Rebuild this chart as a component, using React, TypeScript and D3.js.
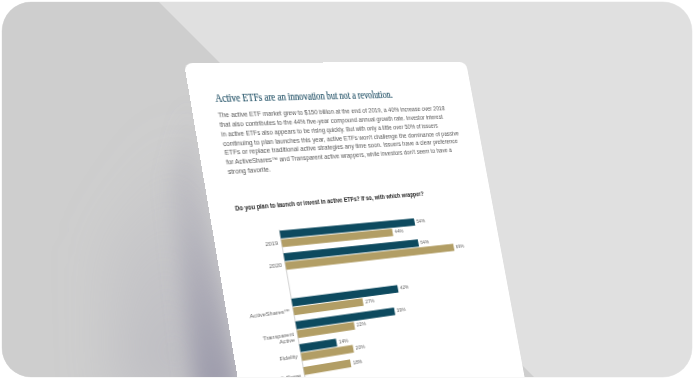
import React from "react";
import * as d3 from "d3";

// ---------------- data ----------------
const categories = ["2019", "2020", "", "ActiveShares™", "Transparent Active", "Fidelity", "T. Rowe"];
const issuerValues: (number | null)[] = [54, 54, null, 42, 39, 14, null];
const investorValues: (number | null)[] = [44, 69, null, 27, 22, 20, 18];
const seriesKeys = ["issuers", "investors"];
const seriesColors = ["#0d4a5f", "#b29e65"];
const headline = "Active ETFs are an innovation but not a revolution.";
const bodyLines = [
  "The active ETF market grew to $150 billion at the end of 2019, a 40% increase over 2018",
  "that also contributes to the 44% five-year compound annual growth rate. Investor interest",
  "in active ETFs also appears to be rising quickly. But with only a little over 50% of issuers",
  "continuing to plan launches this year, active ETFs won’t challenge the dominance of passive",
  "ETFs or replace traditional active strategies any time soon. Issuers have a clear preference",
  "for ActiveShares™ and Transparent active wrappers, while investors don’t seem to have a",
  "strong favorite.",
];
const chartTitle = "Do you plan to launch or invest in active ETFs? If so, with which wrapper?";

// ---------------- geometry (layout only) ----------------
const W = 694;
const H = 380;
const PW = 300;
const PH = 440;
const pageCorners: [number, number][] = [[0, 0], [300, 0], [0, 320], [300, 320]];
const imageCorners: [number, number][] = [[184, 63], [466, 62], [237.5, 377], [516, 331]];
const bodyLineEndsX = [445, 443, 438, 459, 458, 452, 271];

function solveH(src: [number, number][], dst: [number, number][]) {
  const M: number[][] = [];
  const r: number[] = [];
  for (let i = 0; i < 4; i++) {
    const [u, v] = src[i];
    const [x, y] = dst[i];
    M.push([u, v, 1, 0, 0, 0, -u * x, -v * x]);
    r.push(x);
    M.push([0, 0, 0, u, v, 1, -u * y, -v * y]);
    r.push(y);
  }
  const n = 8;
  for (let c = 0; c < n; c++) {
    let p = c;
    for (let k = c + 1; k < n; k++) if (Math.abs(M[k][c]) > Math.abs(M[p][c])) p = k;
    [M[c], M[p]] = [M[p], M[c]];
    [r[c], r[p]] = [r[p], r[c]];
    for (let k = 0; k < n; k++) {
      if (k === c) continue;
      const f = M[k][c] / M[c][c];
      for (let j = c; j < n; j++) M[k][j] -= f * M[c][j];
      r[k] -= f * r[c];
    }
  }
  return r.map((v, i) => v / M[i][i]);
}

export default function App() {
  const [a, b, c, d, e, f, g, h] = solveH(pageCorners, imageCorners);
  const toPage = (x: number, y: number) => {
    const m11 = a - g * x, m12 = b - h * x, r1 = x - c;
    const m21 = d - g * y, m22 = e - h * y, r2 = y - f;
    const det = m11 * m22 - m12 * m21;
    return { u: (r1 * m22 - m12 * r2) / det, v: (m11 * r2 - m21 * r1) / det };
  };
  const uAtX = (X: number, v: number) => (X * (h * v + 1) - b * v - c) / (a - g * X);
  const m3d = `matrix3d(${a},${d},0,${g},${b},${e},0,${h},0,0,1,0,${c},${f},0,1)`;

  // text anchors
  const titleStart = toPage(216, 102.5);
  const titleLen = uAtX(393, titleStart.v) - titleStart.u;
  const body0 = toPage(218.5, 117.5);
  const bodyLast = toPage(229.5, 174);
  const lh = (bodyLast.v - body0.v) / (bodyLines.length - 1);
  const ct = toPage(235.5, 210.5);
  const ctLen = uAtX(424, ct.v) - ct.u;

  // chart frame
  const axisTop = toPage(279.5, 230.7);
  const asTop = toPage(292.7, 298.5);
  const step = (asTop.v - axisTop.v) / 3;
  const u0 = axisTop.u;
  const full = 263.4;
  const x = d3.scaleLinear().domain([0, 100]).range([u0, u0 + full]);
  const pad = 0.27;
  const y = d3
    .scaleBand<number>()
    .domain(categories.map((_, i) => i))
    .range([axisTop.v, axisTop.v + step * (categories.length - pad)])
    .paddingInner(pad)
    .paddingOuter(0);
  const inner = d3.scaleBand<string>().domain(seriesKeys).range([0, y.bandwidth()]).paddingInner(0.104);

  const bars: { key: string; x0: number; x1: number; y: number; h: number; color: string; value: number }[] = [];
  const labelCenters: number[] = [];
  categories.forEach((cat, i) => {
    const vals = [issuerValues[i], investorValues[i]];
    const present = vals.map((v, k) => ({ v, k })).filter((o) => o.v !== null);
    present.forEach((o, slot) => {
      bars.push({
        key: `${i}-${o.k}`,
        x0: x(0),
        x1: x(o.v as number),
        y: (y(i) as number) + slot * inner.step(),
        h: inner.bandwidth(),
        color: seriesColors[o.k],
        value: o.v as number,
      });
    });
    const span = (present.length - 1) * inner.step() + inner.bandwidth();
    labelCenters.push((y(i) as number) + span / 2 + 3.5);
  });

  const labelFont = "'Liberation Sans Narrow','Liberation Sans',Arial,sans-serif";

  return (
    <div style={{ position: "absolute", left: 0, top: 0, width: W, height: H, overflow: "hidden", background: "#ffffff" }}>
      <svg width={W} height={H} style={{ position: "absolute", left: 0, top: 0 }}>
        <defs>
          <clipPath id="card">
            <rect x={2} y={2} width={W - 4} height={H - 5} rx={29} />
          </clipPath>
          <linearGradient id="shadowGrad" gradientUnits="userSpaceOnUse" x1={0} y1={80} x2={0} y2={380}>
            <stop offset="0" stopColor="#9896a8" stopOpacity={0} />
            <stop offset="0.5" stopColor="#9896a8" stopOpacity={0.35} />
            <stop offset="1" stopColor="#9896a8" stopOpacity={0.85} />
          </linearGradient>
          <linearGradient id="shadowGrad2" gradientUnits="userSpaceOnUse" x1={0} y1={120} x2={0} y2={380}>
            <stop offset="0" stopColor="#a9a8b4" stopOpacity={0} />
            <stop offset="1" stopColor="#a9a8b4" stopOpacity={0.45} />
          </linearGradient>
          <filter id="blur" x="-50%" y="-50%" width="200%" height="200%">
            <feGaussianBlur stdDeviation={10} />
          </filter>
          <filter id="blur2" x="-50%" y="-50%" width="200%" height="200%">
            <feGaussianBlur stdDeviation={28} />
          </filter>
        </defs>
        <rect x={1.5} y={1.5} width={W - 3} height={H - 4} rx={30} fill="#efefef" />
        <g clipPath="url(#card)">
          <rect x={0} y={0} width={W} height={H} fill="#e0e0e0" />
          <polygon points="0,0 157,0 537,380 0,380" fill="#cecece" />
          <polygon points="186,110 240,400 120,400 110,250" fill="url(#shadowGrad2)" filter="url(#blur2)" />
          <polygon points="188,100 240,395 195,395 170,180" fill="url(#shadowGrad)" filter="url(#blur)" />
        </g>
      </svg>
      <div
        style={{
          position: "absolute",
          left: 0,
          top: 0,
          width: W,
          height: H,
          clipPath: "inset(2px 2px 3px 2px round 29px)",
        }}
      >
        <svg
          width={PW}
          height={PH}
          style={{
            position: "absolute",
            left: 0,
            top: 0,
            transformOrigin: "0 0",
            transform: m3d,
            overflow: "visible",
          }}
        >
          <rect x={0} y={0} width={PW} height={PH} rx={8} fill="#ffffff" />
          <text
            x={titleStart.u}
            y={titleStart.v}
            fontFamily="'Liberation Serif','DejaVu Serif',serif"
            fontSize={12}
            fill="#1b4c62"
            stroke="#1b4c62"
            strokeWidth={0.15}
            textLength={titleLen}
            lengthAdjust="spacingAndGlyphs"
          >
            {headline}
          </text>
          {bodyLines.map((line, i) => {
            const v = body0.v + i * lh;
            return (
              <text
                key={i}
                x={body0.u}
                y={v}
                fontFamily={labelFont}
                fontSize={6.6}
                fill="#555555"
                textLength={uAtX(bodyLineEndsX[i], v) - body0.u}
                lengthAdjust="spacingAndGlyphs"
              >
                {line}
              </text>
            );
          })}
          <text
            x={ct.u}
            y={ct.v}
            fontFamily={labelFont}
            fontWeight="bold"
            fontSize={7.6}
            fill="#222222"
            textLength={ctLen}
            lengthAdjust="spacingAndGlyphs"
          >
            {chartTitle}
          </text>
          <line
            x1={x(0)}
            x2={x(0)}
            y1={axisTop.v - 1}
            y2={PH}
            stroke="#b5b5b5"
            strokeWidth={0.6}
          />
          {bars.map((bb) => (
            <g key={bb.key}>
              <rect x={bb.x0} y={bb.y} width={bb.x1 - bb.x0} height={bb.h} fill={bb.color} />
              <text
                x={bb.x1 + 2.5}
                y={bb.y + bb.h / 2}
                dy="0.35em"
                fontFamily={labelFont}
                fontSize={4.8}
                fill="#666666"
              >
                {`${bb.value}%`}
              </text>
            </g>
          ))}
          {categories.map((cat, i) => {
            if (!cat) return null;
            const cy = labelCenters[i];
            const parts = cat === "Transparent Active" ? ["Transparent", "Active"] : [cat];
            return (
              <text
                key={cat}
                x={x(0) - 3.5}
                y={cy}
                textAnchor="end"
                fontFamily={labelFont}
                fontSize={5.6}
                fill="#666666"
              >
                {parts.map((p, k) => (
                  <tspan key={k} x={x(0) - 3.5} dy={k === 0 ? "0.35em" : "1.15em"}>
                    {p}
                  </tspan>
                ))}
              </text>
            );
          })}
        </svg>
      </div>
    </div>
  );
}
